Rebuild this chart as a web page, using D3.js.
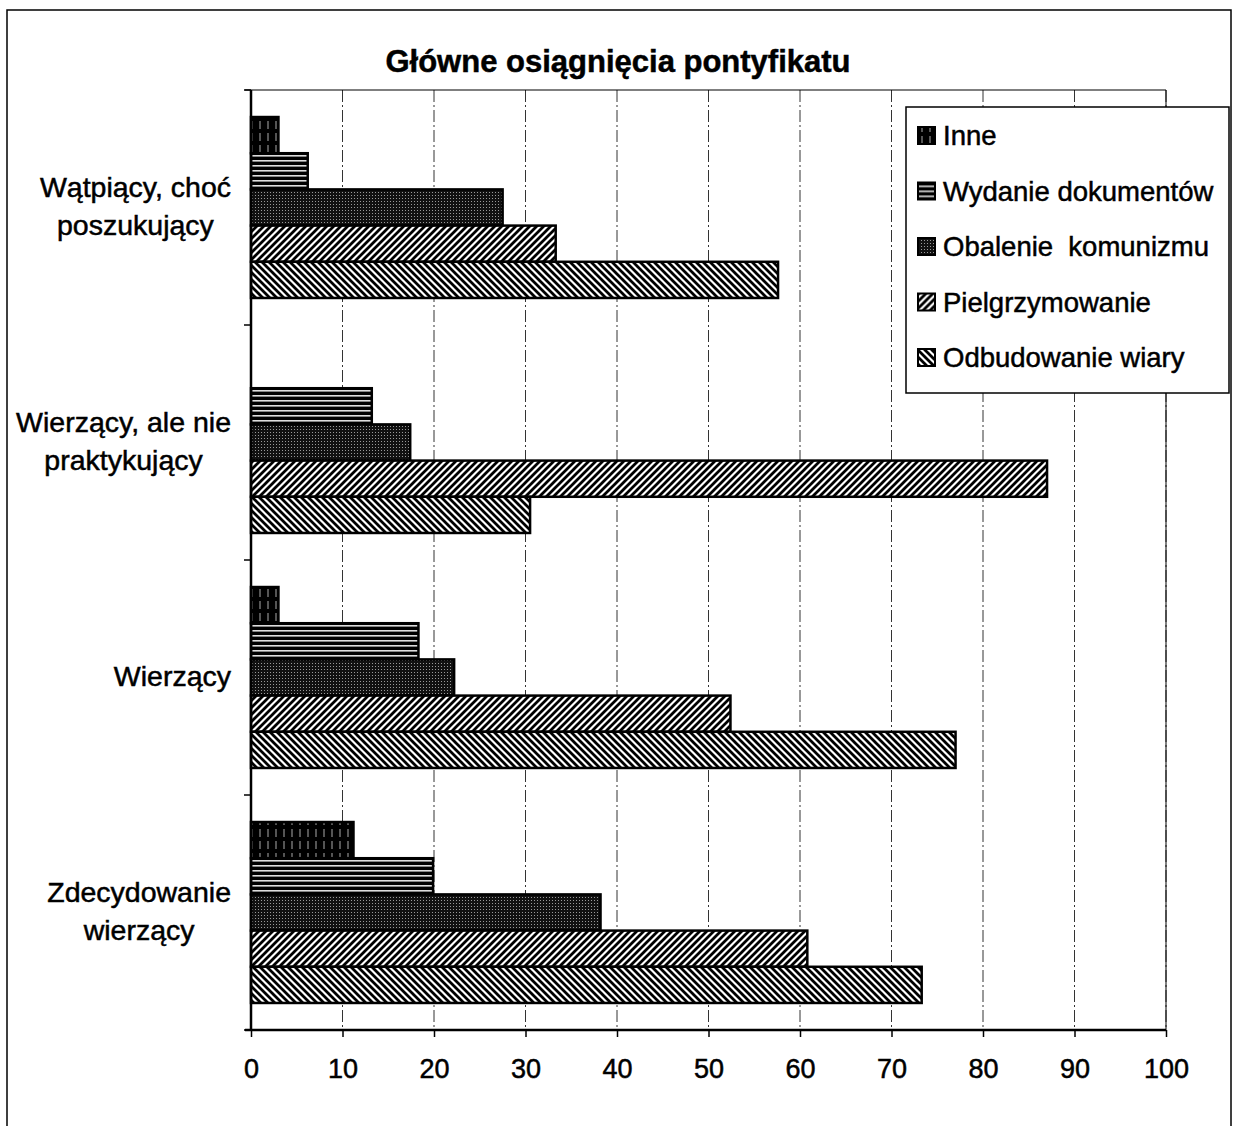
<!DOCTYPE html>
<html>
<head>
<meta charset="utf-8">
<script src="https://cdn.jsdelivr.net/npm/d3@7"></script>
<style>
  body { margin: 0; background: #fff; }
  text { font-family: "Liberation Sans", Arial, sans-serif; fill: #000; stroke: #000; stroke-width: 0.5px; }
</style>
</head>
<body>
<div id="chart"></div>
<script>
const categories = [
    ['Wątpiący, choć', 'poszukujący'],
    ['Wierzący, ale nie', 'praktykujący'],
    ['Wierzący'],
    ['Zdecydowanie', 'wierzący']
];
const seriesNames = ['Inne', 'Wydanie dokumentów', 'Obalenie  komunizmu', 'Pielgrzymowanie', 'Odbudowanie wiary'];
const inne = [3, 0, 3, 11.2];
const wydanie = [6.2, 13.2, 18.3, 19.9];
const obalenie = [27.5, 17.4, 22.2, 38.2];
const pielgrzymowanie = [33.3, 87, 52.4, 60.8];
const odbudowanie = [57.6, 30.5, 77, 73.3];
const xTicks = [0, 10, 20, 30, 40, 50, 60, 70, 80, 90, 100];

const seriesValues = [inne, wydanie, obalenie, pielgrzymowanie, odbudowanie];
const patternIds = ['p-inne', 'p-wyd', 'p-obal', 'p-piel', 'p-odb'];

const width = 1236;
const height = 1126;
const margin = {top: 90, bottom: 96, left: 251, right: 70};

const svg = d3.select('#chart')
    .append('svg')
    .attr('width', width)
    .attr('height', height);

// patterns
const defs = svg.append('defs');
function pat(id, w, h, build) {
    const p = defs.append('pattern')
        .attr('id', id)
        .attr('patternUnits', 'userSpaceOnUse')
        .attr('width', w)
        .attr('height', h);
    build(p);
}
pat('p-inne', 8, 12, p => {
    p.append('rect').attr('width', 8).attr('height', 12).attr('fill', '#000');
    p.append('line').attr('x1', 4).attr('x2', 4).attr('y1', 1).attr('y2', 9)
        .attr('stroke', '#aaa').attr('stroke-width', 1);
});
pat('p-wyd', 6, 5, p => {
    p.append('rect').attr('width', 6).attr('height', 5).attr('fill', '#000');
    p.append('rect').attr('y', 0).attr('width', 6).attr('height', 1.6).attr('fill', '#ddd');
});
pat('p-obal', 3, 3, p => {
    p.append('rect').attr('width', 3).attr('height', 3).attr('fill', '#111');
    p.append('rect').attr('width', 1).attr('height', 1).attr('fill', '#999');
});
pat('p-piel', 7, 7, p => {
    p.append('rect').attr('width', 7).attr('height', 7).attr('fill', '#fff');
    p.append('path').attr('d', 'M-1,8 L8,-1 M-4,4 L4,-4 M3,11 L11,3')
        .attr('stroke', '#000').attr('stroke-width', 2.8);
});
pat('p-odb', 7, 7, p => {
    p.append('rect').attr('width', 7).attr('height', 7).attr('fill', '#fff');
    p.append('path').attr('d', 'M-1,-1 L8,8 M-4,3 L4,11 M3,-4 L11,4')
        .attr('stroke', '#000').attr('stroke-width', 2.8);
});

// outer frame
svg.append('rect')
    .attr('x', 7).attr('y', 10)
    .attr('width', 1224).attr('height', 1120)
    .attr('fill', 'none').attr('stroke', '#000').attr('stroke-width', 1.5);

const x = d3.scaleLinear()
    .domain([0, 100])
    .range([margin.left, width - margin.right]);

const y = d3.scaleBand()
    .domain(d3.range(categories.length))
    .range([margin.top, height - margin.bottom])
    .paddingInner(0.23)
    .paddingOuter(0.115);

const ySub = d3.scaleBand()
    .domain(d3.range(seriesNames.length))
    .range([0, y.bandwidth()]);

const yOuter = d3.scaleLinear()
    .domain([0, categories.length])
    .range([margin.top, height - margin.bottom]);

// gridlines
svg.append('g')
    .selectAll('line')
    .data(xTicks.slice(1))
    .join('line')
        .attr('x1', d => x(d)).attr('x2', d => x(d))
        .attr('y1', margin.top).attr('y2', height - margin.bottom)
        .attr('stroke', '#333')
        .attr('stroke-width', 1)
        .attr('stroke-dasharray', '12,3,2,3');

// plot frame top
svg.append('line')
    .attr('x1', margin.left - 6).attr('x2', x(100))
    .attr('y1', margin.top).attr('y2', margin.top)
    .attr('stroke', '#000').attr('stroke-width', 1.2);

// bars
const rows = [];
categories.forEach((c, ci) => {
    seriesValues.forEach((vals, si) => {
        rows.push({ci, si, v: vals[ci]});
    });
});

svg.append('g')
    .selectAll('rect')
    .data(rows.filter(d => d.v > 0))
    .join('rect')
        .attr('x', x(0))
        .attr('y', d => y(d.ci) + ySub(d.si))
        .attr('width', d => x(d.v) - x(0))
        .attr('height', ySub.bandwidth())
        .attr('fill', d => `url(#${patternIds[d.si]})`)
        .attr('stroke', '#000')
        .attr('stroke-width', 2.5);

// y axis
const yAxisG = svg.append('g');
yAxisG.append('line')
    .attr('x1', margin.left).attr('x2', margin.left)
    .attr('y1', margin.top).attr('y2', height - margin.bottom)
    .attr('stroke', '#000').attr('stroke-width', 2.5);
yAxisG.selectAll('.ytick')
    .data(d3.range(categories.length + 1))
    .join('line')
        .attr('class', 'ytick')
        .attr('x1', margin.left - 7).attr('x2', margin.left)
        .attr('y1', d => yOuter(d)).attr('y2', d => yOuter(d))
        .attr('stroke', '#000').attr('stroke-width', 1.5);

// category labels
const lineH = 38;
const labelRight = 231;
categories.forEach((lines, ci) => {
    const cy = y(ci) + y.bandwidth() / 2;
    const g = svg.append('g');
    const texts = g.selectAll('text')
        .data(lines)
        .join('text')
            .attr('font-size', 28.5)
            .attr('text-anchor', 'middle')
            .attr('y', (d, i) => cy + (i - (lines.length - 1) / 2) * lineH + 8)
            .text(d => d);
    let maxW = 0;
    texts.each(function() { maxW = Math.max(maxW, this.getComputedTextLength()); });
    texts.attr('x', labelRight - maxW / 2);
});

// x axis
const xAxisG = svg.append('g')
    .attr('transform', `translate(0, ${height - margin.bottom})`)
    .call(d3.axisBottom(x).tickValues(xTicks).tickSize(7).tickSizeOuter(0).tickPadding(22));
xAxisG.select('.domain').attr('stroke', '#000').attr('stroke-width', 2.5)
    .attr('d', `M${margin.left - 6},0H${x(100)}`);
xAxisG.selectAll('.tick line').attr('stroke', '#000').attr('stroke-width', 1.5);
xAxisG.selectAll('.tick text')
    .attr('font-size', 27)
    .attr('font-family', '"Liberation Sans", Arial, sans-serif')
    .attr('fill', '#000');

// right edge of plot area
svg.append('line')
    .attr('x1', x(100)).attr('x2', x(100))
    .attr('y1', margin.top).attr('y2', height - margin.bottom)
    .attr('stroke', '#000').attr('stroke-width', 1);

// title
svg.append('text')
    .attr('x', 618).attr('y', 72)
    .attr('text-anchor', 'middle')
    .attr('font-size', 31)
    .attr('font-weight', 'bold')
    .text('Główne osiągnięcia pontyfikatu');

// legend
const legend = svg.append('g');
legend.append('rect')
    .attr('x', 906).attr('y', 107)
    .attr('width', 323).attr('height', 286)
    .attr('fill', '#fff').attr('stroke', '#000').attr('stroke-width', 1.5);
const legItems = legend.selectAll('g.item')
    .data(seriesNames)
    .join('g')
        .attr('class', 'item')
        .attr('transform', (d, i) => `translate(918, ${135 + i * 55.5})`);
legItems.append('rect')
    .attr('x', 0).attr('y', -8)
    .attr('width', 17).attr('height', 17)
    .attr('fill', (d, i) => `url(#${patternIds[i]})`)
    .attr('stroke', '#000').attr('stroke-width', 2);
legItems.append('text')
    .attr('x', 25).attr('y', 10)
    .attr('font-size', 27.5)
    .style('white-space', 'pre')
    .text(d => d);
</script>
</body>
</html>
